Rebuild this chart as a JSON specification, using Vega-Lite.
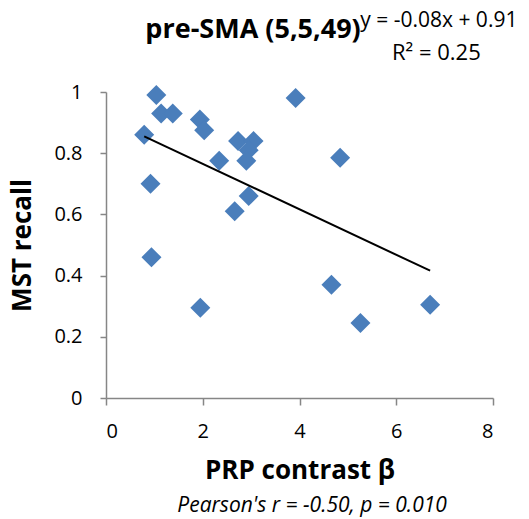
{
  "$schema": "https://vega.github.io/schema/vega-lite/v6.json",
  "autosize": "none",
  "width": 387,
  "height": 306,
  "padding": {"left": 106, "top": 92, "right": 36, "bottom": 121},
  "background": "white",
  "config": {
    "view": {"stroke": null},
    "font": "Open Sans",
    "axis": {
      "grid": false,
      "domainColor": "#868686",
      "tickColor": "#868686",
      "domainWidth": 1.5,
      "tickWidth": 1.5,
      "labelColor": "#000000",
      "titleColor": "#000000",
      "labelFont": "Open Sans",
      "titleFont": "Open Sans",
      "labelFontSize": 20,
      "titleFontSize": 26,
      "titleFontWeight": "bold"
    }
  },
  "data": {
    "values": [
      {"prp": 1.04, "recall": 0.99},
      {"prp": 1.14, "recall": 0.93},
      {"prp": 1.38, "recall": 0.93},
      {"prp": 0.79, "recall": 0.86},
      {"prp": 1.94, "recall": 0.91},
      {"prp": 2.03, "recall": 0.875},
      {"prp": 2.34, "recall": 0.775},
      {"prp": 0.92, "recall": 0.70},
      {"prp": 2.73, "recall": 0.84},
      {"prp": 3.05, "recall": 0.84},
      {"prp": 2.95, "recall": 0.81},
      {"prp": 2.90, "recall": 0.775},
      {"prp": 2.95, "recall": 0.66},
      {"prp": 2.66, "recall": 0.61},
      {"prp": 3.92, "recall": 0.98},
      {"prp": 0.94, "recall": 0.46},
      {"prp": 1.95, "recall": 0.295},
      {"prp": 4.84, "recall": 0.785},
      {"prp": 4.66, "recall": 0.37},
      {"prp": 5.26, "recall": 0.245},
      {"prp": 6.70, "recall": 0.305}
    ]
  },
  "layer": [
    {
      "mark": {"type": "point", "shape": "diamond", "filled": true, "size": 400, "color": "#4A7EBB", "opacity": 1},
      "encoding": {
        "x": {"field": "prp", "type": "quantitative", "scale": {"domain": [0, 8]},
              "axis": {"values": [0, 2, 4, 6, 8], "tickSize": 7, "labelPadding": 16, "title": "PRP contrast β", "titlePadding": 16}},
        "y": {"field": "recall", "type": "quantitative", "scale": {"domain": [0, 1]},
              "axis": {"values": [0, 0.2, 0.4, 0.6, 0.8, 1], "format": "~g", "tickSize": 6, "labelPadding": 18, "title": "MST recall", "titlePadding": 18}}
      }
    },
    {
      "transform": [{"regression": "recall", "on": "prp"}],
      "mark": {"type": "line", "color": "#000000", "strokeWidth": 2},
      "encoding": {
        "x": {"field": "prp", "type": "quantitative"},
        "y": {"field": "recall", "type": "quantitative"}
      }
    },
    {
      "data": {"values": [{"label": "pre-SMA (5,5,49)"}]},
      "mark": {"type": "text", "font": "Open Sans", "fontSize": 27, "fontWeight": "bold", "align": "center", "baseline": "alphabetic"},
      "encoding": {"text": {"field": "label"}, "x": {"datum": 3.04}, "y": {"datum": 1.175}}
    },
    {
      "data": {"values": [{"label": "y = -0.08x + 0.91"}]},
      "mark": {"type": "text", "font": "Open Sans", "fontSize": 21, "align": "center", "baseline": "alphabetic"},
      "encoding": {"text": {"field": "label"}, "x": {"datum": 6.88}, "y": {"datum": 1.212}}
    },
    {
      "data": {"values": [{"label": "R² = 0.25"}]},
      "mark": {"type": "text", "font": "Open Sans", "fontSize": 22, "align": "center", "baseline": "alphabetic"},
      "encoding": {"text": {"field": "label"}, "x": {"datum": 6.83}, "y": {"datum": 1.105}}
    },
    {
      "data": {"values": [{"label": "Pearson's r = -0.50, p = 0.010"}]},
      "mark": {"type": "text", "font": "Open Sans", "fontSize": 21, "fontStyle": "italic", "align": "center", "baseline": "alphabetic"},
      "encoding": {"text": {"field": "label"}, "x": {"datum": 4.26}, "y": {"datum": -0.372}}
    }
  ]
}
